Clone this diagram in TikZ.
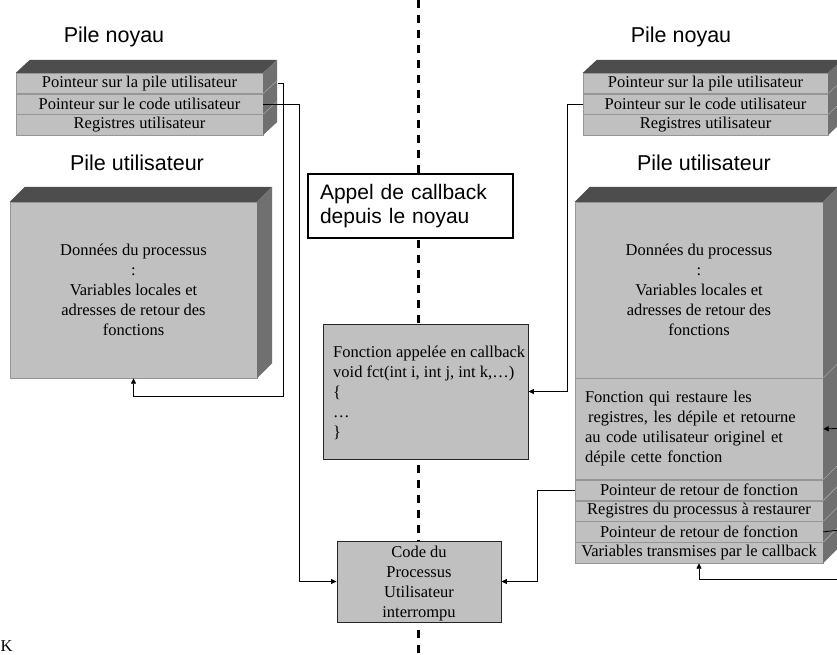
\documentclass[tikz,border=0pt]{standalone}
\usepackage{fontspec}
\setmainfont{Liberation Serif}
\setsansfont{Liberation Sans}
\usepackage{tikz}
\usetikzlibrary{arrows.meta,positioning}
\definecolor{facegray}{HTML}{C0C0C0}
\definecolor{topgray}{HTML}{4D4D4D}
\definecolor{sidegray}{HTML}{707070}
\definecolor{edgegray}{HTML}{969696}
\newcommand{\rowfont}{\fontsize{16.5}{20}\selectfont}
\newcommand{\titlefont}{\sffamily\fontsize{21.5}{24}\selectfont}
\newcommand{\blockdepth}[3]{%
  \fill[topgray] (#1.north west) -- ++(#3) -- ([shift={(#3)}]#1.north east) -- (#1.north east) -- cycle;
  \fill[sidegray] (#1.north east) -- ++(#3) -- ([shift={(#3)}]#2.south east) -- (#2.south east) -- cycle;}

\begin{document}
\begin{tikzpicture}[
    x=1pt, y=-1pt,
    row/.style={rectangle, draw=edgegray, fill=facegray, minimum width=247, minimum height=20.3, inner sep=0, font=\rowfont},
    block/.style={rectangle, draw=edgegray, fill=facegray, minimum width=247, inner sep=0, font=\rowfont, align=center},
    codebox/.style={rectangle, draw=black!85, fill=facegray, line width=0.9pt, inner sep=0},
    boxtext/.style={inner sep=0, font=\rowfont},
    title/.style={font=\titlefont, inner sep=0},
    link/.style={draw=black, line width=0.8pt},
    arrow/.style={link, -{Triangle[length=5.5pt,width=5pt]}},
    seam/.style={draw=edgegray!70!white, line width=0.4pt},
    midline/.style={line width=2.6pt, dash pattern=on 8pt off 7pt}
]
\useasboundingbox (0,0) rectangle (837,654);
\fill[white] (0,0) rectangle (837,654);
\coordinate (mtop) at (418.5,0);
\coordinate (mbot) at (418.5,654);
\draw[midline] (mtop) -- (mbot);

\node[title] (tkl) at (114,37) {Pile noyau};
\node[row] (kl1) at (139.5,83.2) {Pointeur sur la pile utilisateur};
\node[row, below=0pt of kl1] (kl2) {Pointeur sur le code utilisateur};
\node[row, below=0pt of kl2] (kl3) {Registres utilisateur};
\blockdepth{kl1}{kl3}{14,-13}
\foreach \r in {kl1,kl2} \draw[seam] (\r.south east) -- ++(14,-13);

\node[title] (tul) at (137,163) {Pile utilisateur};
\node[block, minimum height=176] (ul) at (133.5,290) {Données du processus\\:\\Variables locales et\\adresses de retour des\\fonctions};
\blockdepth{ul}{ul}{15,-15}

\node[title] (tkr) at (681,37) {Pile noyau};
\node[row, minimum width=245] (kr1) at (705.5,83.2) {Pointeur sur la pile utilisateur};
\node[row, minimum width=245, below=0pt of kr1] (kr2) {Pointeur sur le code utilisateur};
\node[row, minimum width=245, below=0pt of kr2] (kr3) {Registres utilisateur};
\blockdepth{kr1}{kr3}{14,-13}
\foreach \r in {kr1,kr2} \draw[seam] (\r.south east) -- ++(14,-13);

\node[title] (tur) at (704,163) {Pile utilisateur};
\node[block, minimum width=248, minimum height=176] (ur) at (699,290) {Données du processus\\:\\Variables locales et\\adresses de retour des\\fonctions};
\node[block, minimum width=248, minimum height=101, text width=228, align=left, below=0pt of ur] (urf) {Fonction qui restaure les\\\hspace*{3pt}registres, les dépile et retourne\\au code utilisateur originel et\\dépile cette fonction};
\node[row, minimum width=248, minimum height=20.5, below=0pt of urf] (ur1) {Pointeur de retour de fonction};
\node[row, minimum width=248, minimum height=20.5, below=0pt of ur1] (ur2) {Registres du processus à restaurer};
\node[row, minimum width=248, minimum height=20.5, below=0pt of ur2] (ur3) {Pointeur de retour de fonction};
\node[row, minimum width=248, minimum height=20.5, below=0pt of ur3] (ur4) {Variables transmises par le callback};
\blockdepth{ur}{ur4}{15,-15}
\foreach \r in {ur,urf,ur1,ur2,ur3} \draw[seam] (\r.south east) -- ++(15,-15);

\node[draw=black, line width=1.5pt, fill=white, minimum width=205, minimum height=64, inner xsep=12, inner ysep=0, text width=181, align=left, font=\sffamily\fontsize{21}{24}\selectfont] (cb) at (410.5,206) {Appel de callback\\depuis le noyau};

\node[codebox, minimum width=205, minimum height=135] (fn) at (425.5,391.5) {};
\node[boxtext, anchor=west, align=left] (fntext) at (333,393) {Fonction appelée en callback\\void fct(int i, int j, int k,…)\\\{\\…\\\}};

\node[codebox, minimum width=164, minimum height=81] (code) at (419,581.5) {};
\node[boxtext, align=center] (codetext) at (419,584) {Code du\\Processus\\Utilisateur\\interrompu};

\coordinate (lk1) at (283,396);
\draw[arrow, shorten <=15pt] (kl1.east) -| (lk1) -| (ul.south);
\coordinate (lk2) at (299,581.5);
\draw[arrow] (kl2.east) -| (lk2) -- (code.west);
\coordinate (rk2) at (567,391.5);
\draw[arrow] (kr2.west) -| (rk2) -- (fn.east);
\coordinate (ru1) at (537.5,581.5);
\draw[arrow] (ur1.west) -| (ru1) -- (code.east);
\coordinate (ein) at (837,428.5);
\draw[arrow] (ein) -- (urf.east);
\coordinate (eout) at (837,530.3);
\draw[link] (eout) -- (ur3.east);
\coordinate (ebot) at (837,579);
\draw[arrow] (ebot) -| (ur4.south);

\node[anchor=base west, inner sep=0, font=\rowfont] (stray) at (0.5,651) {K};
\end{tikzpicture}
\end{document}
